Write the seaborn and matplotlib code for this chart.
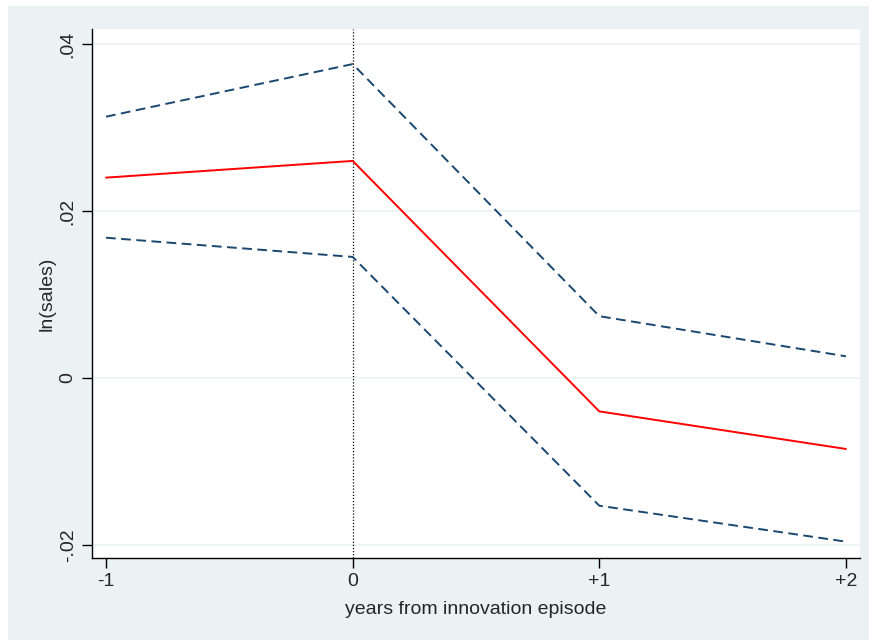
import matplotlib
matplotlib.use("Agg")
import matplotlib.pyplot as plt
from matplotlib.patches import Rectangle
import pandas as pd
import seaborn as sns

# years relative to the innovation episode
years = [-1, 0, 1, 2]
year_labels = ["-1", "0", "+1", "+2"]

# point estimate and 95% band
coef = [0.0240, 0.0260, -0.0040, -0.0085]
upper = [0.0313, 0.0376, 0.0074, 0.0026]
lower = [0.0168, 0.0145, -0.0153, -0.0196]

ytick_vals = [-0.02, 0, 0.02, 0.04]
ytick_labels = ["-.02", "0", ".02", ".04"]

BG = "#eaf2f3"
NAVY = "#1a476f"

df = pd.DataFrame({
    "year": years * 3,
    "value": coef + upper + lower,
    "series": ["coef"] * 4 + ["upper"] * 4 + ["lower"] * 4,
})

sns.set_theme(style="white")
plt.rcParams["font.family"] = ["Liberation Sans", "DejaVu Sans"]
FS = 14

fig = plt.figure(figsize=(8.7, 6.4), dpi=100)
fig.patch.set_facecolor("white")
# stata-like outer region, with the thin white margin at top/left
fig.patches.append(Rectangle((8 / 870, 0), 1, 1 - 6 / 640, transform=fig.transFigure,
                             facecolor=BG, edgecolor="none", zorder=-10))

ax = fig.add_axes([92 / 870, 1 - 558 / 640, (860 - 92) / 870, (558 - 29) / 640])
ax.set_facecolor("white")

for y in ytick_vals:
    ax.axhline(y, color=BG, lw=1.2, zorder=0)
ax.axvline(0, color="black", lw=0.9, ls=(0, (1, 1.5)), zorder=1)

dash = (0, (5, 2.8))
sns.lineplot(data=df[df.series == "upper"], x="year", y="value", color=NAVY,
             lw=1.4, ax=ax, linestyle=dash)
sns.lineplot(data=df[df.series == "lower"], x="year", y="value", color=NAVY,
             lw=1.4, ax=ax, linestyle=dash)
sns.lineplot(data=df[df.series == "coef"], x="year", y="value", color="#ff0000",
             lw=1.4, ax=ax)

ax.set_xlim(-1.057, 2.057)
ax.set_ylim(-0.02156, 0.0418)
ax.set_xticks(years)
ax.set_xticklabels(year_labels, fontsize=FS)
ax.set_yticks(ytick_vals)
ax.set_yticklabels(ytick_labels, fontsize=FS, rotation=90, va="center")

for side in ["top", "right"]:
    ax.spines[side].set_visible(False)
for side in ["left", "bottom"]:
    ax.spines[side].set_color("black")
    ax.spines[side].set_linewidth(1.0)

ax.tick_params(axis="both", direction="out", length=7, width=1, color="black",
               bottom=True, left=True, pad=4)
ax.set_xlabel("years from innovation episode", fontsize=FS, labelpad=8)
ax.set_ylabel("ln(sales)", fontsize=FS, labelpad=3)

plt.savefig("out.png", dpi=100, facecolor=fig.get_facecolor())
